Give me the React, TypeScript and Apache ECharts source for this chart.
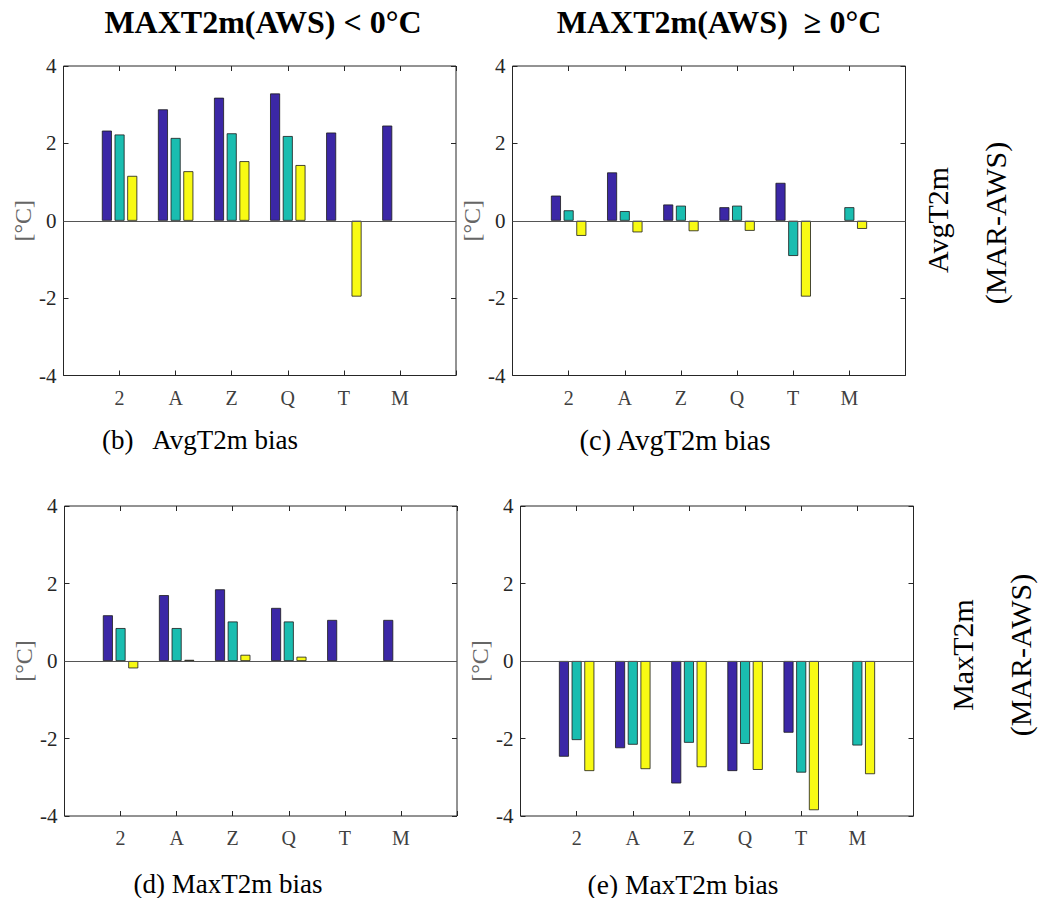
import React, { useEffect, useRef } from "react";
import * as echarts from "echarts";

const categories = ["2", "A", "Z", "Q", "T", "M"];

// (b) AvgT2m bias, MAXT2m(AWS) < 0°C
const avgLtBlue = [2.33, 2.88, 3.18, 3.29, 2.28, 2.46];
const avgLtTeal = [2.23, 2.14, 2.26, 2.19, null, null];
const avgLtYellow = [1.16, 1.28, 1.54, 1.44, -1.96, null];
// (c) AvgT2m bias, MAXT2m(AWS) >= 0°C
const avgGeBlue = [0.65, 1.25, 0.42, 0.35, 0.98, null];
const avgGeTeal = [0.27, 0.25, 0.39, 0.39, -0.91, 0.35];
const avgGeYellow = [-0.39, -0.3, -0.27, -0.26, -1.96, -0.21];
// (d) MaxT2m bias, MAXT2m(AWS) < 0°C
const maxLtBlue = [1.18, 1.7, 1.85, 1.37, 1.06, 1.06];
const maxLtTeal = [0.85, 0.85, 1.02, 1.02, null, null];
const maxLtYellow = [-0.19, 0.03, 0.16, 0.11, null, null];
// (e) MaxT2m bias, MAXT2m(AWS) >= 0°C
const maxGeBlue = [-2.47, -2.25, -3.16, -2.84, -1.85, null];
const maxGeTeal = [-2.04, -2.16, -2.11, -2.14, -2.88, -2.18];
const maxGeYellow = [-2.84, -2.79, -2.74, -2.81, -3.85, -2.92];

const yMin = -4;
const yMax = 4;
const yInterval = 2;

const titles = ["MAXT2m(AWS) < 0°C", "MAXT2m(AWS)  ≥ 0°C"];
const captions = ["(b)\u00a0\u00a0 AvgT2m bias", "(c) AvgT2m bias", "(d) MaxT2m bias", "(e) MaxT2m bias"];
const rowLabels = [["AvgT2m", "(MAR-AWS)"], ["MaxT2m", "(MAR-AWS)"]];

const colors = ["#3B27A6", "#1ABDB0", "#F8FA14"];
const FONT = "'Liberation Serif', 'Times New Roman', serif";

const panels = [
  { left: 63.5, top: 66, width: 392.5, height: 309.5, data: [avgLtBlue, avgLtTeal, avgLtYellow] },
  { left: 512.5, top: 66, width: 393, height: 309.5, data: [avgGeBlue, avgGeTeal, avgGeYellow] },
  { left: 64.5, top: 506, width: 392.5, height: 310, data: [maxLtBlue, maxLtTeal, maxLtYellow] },
  { left: 520.5, top: 506, width: 393, height: 310, data: [maxGeBlue, maxGeTeal, maxGeYellow] },
];

const pad = (arr: (number | null)[]) => [null, ...arr, null];

export default function App() {
  const ref = useRef<HTMLDivElement>(null);
  useEffect(() => {
    if (!ref.current) return;
    const chart = echarts.init(ref.current, null, { renderer: "svg" });
    const axisData = ["", ...categories, ""];
    const grid: any[] = [];
    const xAxis: any[] = [];
    const yAxis: any[] = [];
    const series: any[] = [];
    panels.forEach((p, i) => {
      grid.push({
        left: p.left,
        top: p.top,
        width: p.width,
        height: p.height,
        show: true,
        borderColor: "#262626",
        borderWidth: 1,
        backgroundColor: "#fff",
      });
      const xBase = {
        type: "category",
        gridIndex: i,
        data: axisData,
        boundaryGap: false,
        axisLine: { show: false, onZero: false },
        axisTick: { show: true, inside: true, length: 5, interval: 0, lineStyle: { color: "#262626" } },
        splitLine: { show: false },
      };
      xAxis.push({
        ...xBase,
        position: "bottom",
        axisLabel: { interval: 0, color: "#404040", fontSize: 20, fontFamily: FONT, margin: 12 },
      });
      xAxis.push({ ...xBase, position: "top", axisLabel: { show: false } });
      const yBase = {
        type: "value",
        gridIndex: i,
        min: yMin,
        max: yMax,
        interval: yInterval,
        axisLine: { show: false, onZero: false },
        axisTick: { show: true, inside: true, length: 5, lineStyle: { color: "#262626" } },
        splitLine: { show: false },
      };
      yAxis.push({
        ...yBase,
        position: "left",
        axisLabel: { color: "#262626", fontSize: 21, fontFamily: FONT, margin: 7 },
        name: "[°C]",
        nameLocation: "middle",
        nameGap: 27,
        nameTextStyle: { color: "#666", fontSize: 24, fontFamily: FONT },
      });
      yAxis.push({ ...yBase, position: "right", axisLabel: { show: false } });
      p.data.forEach((vals, k) => {
        series.push({
          type: "bar",
          xAxisIndex: 2 * i,
          yAxisIndex: 2 * i,
          data: pad(vals),
          barWidth: 10,
          barGap: "27%",
          itemStyle: { color: colors[k], borderColor: "#1a1a1a", borderWidth: 0.8 },
        });
      });
      // zero reference line
      series.push({
        type: "line",
        xAxisIndex: 2 * i,
        yAxisIndex: 2 * i,
        data: [],
        silent: true,
        markLine: {
          silent: true,
          symbol: ["none", "none"],
          label: { show: false },
          lineStyle: { color: "#555", width: 1, type: "solid" },
          data: [{ yAxis: 0 }],
        },
      });
    });

    const graphic: any[] = [];
    const titleX = [263, 719];
    titles.forEach((t, i) =>
      graphic.push({
        type: "text",
        x: titleX[i],
        y: 22,
        style: {
          text: t,
          fill: "#000",
          font: `bold 32px ${FONT}`,
          textAlign: "center",
          textVerticalAlign: "middle",
        },
      })
    );
    const capPos = [
      [200, 440, 27],
      [675, 440, 28.5],
      [228, 884, 27],
      [683, 884, 27.5],
    ];
    captions.forEach((c, i) =>
      graphic.push({
        type: "text",
        x: capPos[i][0],
        y: capPos[i][1],
        style: {
          text: c,
          fill: "#000",
          font: `${capPos[i][2]}px ${FONT}`,
          textAlign: "center",
          textVerticalAlign: "middle",
        },
      })
    );
    const rowPos = [
      [[937, 220], [995, 223]],
      [[962, 655], [1020, 655]],
    ];
    rowLabels.forEach((lines, r) =>
      lines.forEach((l, j) =>
        graphic.push({
          type: "text",
          x: rowPos[r][j][0],
          y: rowPos[r][j][1],
          rotation: Math.PI / 2,
          style: {
            text: l,
            fill: "#000",
            font: `30px ${FONT}`,
            textAlign: "center",
            textVerticalAlign: "middle",
          },
        })
      )
    );

    chart.setOption({
      animation: false,
      backgroundColor: "#fff",
      grid,
      xAxis,
      yAxis,
      series,
      graphic,
    });
    return () => chart.dispose();
  }, []);
  return (
    <div
      ref={ref}
      style={{ position: "absolute", left: 0, top: 0, width: 1049, height: 898 }}
    />
  );
}
